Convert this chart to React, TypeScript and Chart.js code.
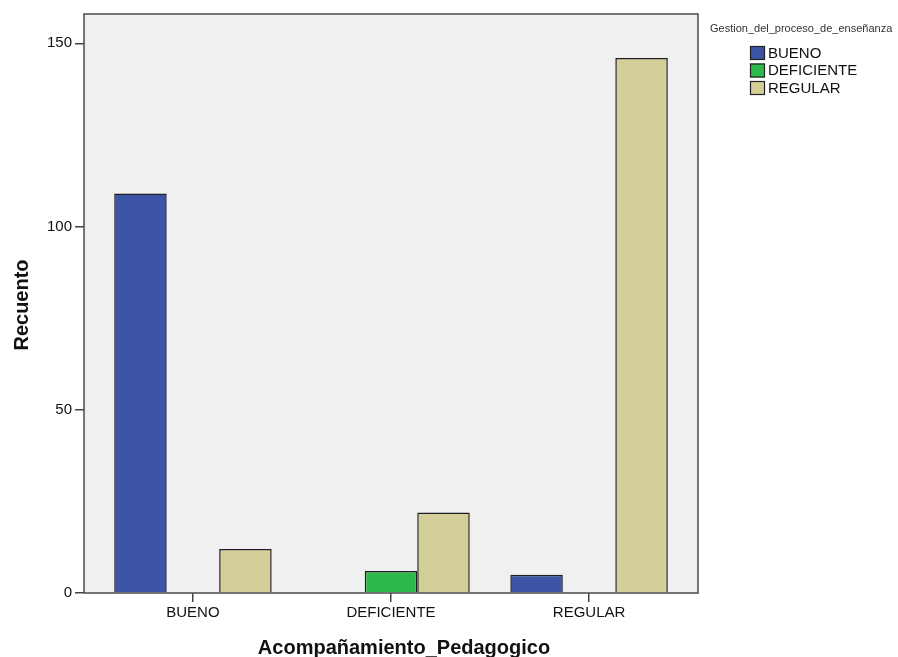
import React, { useEffect, useRef } from 'react';
import { Chart, registerables } from 'chart.js';

Chart.register(...registerables);

const categories = ['BUENO', 'DEFICIENTE', 'REGULAR'];
const seriesNames = ['BUENO', 'DEFICIENTE', 'REGULAR'];
const buenoValues = [109, null, 5];
const deficienteValues = [null, 6, null];
const regularValues = [12, 22, 146];
const yTickValues = [0, 50, 100, 150];
const seriesColors = ['#3b54a6', '#2eb94c', '#d4cf98'];
const xTitle = 'Acompañamiento_Pedagogico';
const yTitle = 'Recuento';
const legendTitle = 'Gestion_del_proceso_de_enseñanza';

const FONT = '"Liberation Sans", Arial, sans-serif';

export default function App() {
  const ref = useRef<HTMLCanvasElement | null>(null);

  useEffect(() => {
    const canvas = ref.current;
    if (!canvas) return;

    const decor = {
      id: 'decor',
      beforeDraw(chart: any) {
        const { ctx, chartArea: a } = chart;
        ctx.save();
        ctx.fillStyle = '#ffffff';
        ctx.fillRect(0, 0, chart.width, chart.height);
        ctx.fillStyle = '#f0f0f0';
        ctx.fillRect(a.left, a.top, a.right - a.left, a.bottom - a.top);
        ctx.restore();
      },
      afterDatasetsDraw(chart: any) {
        const { ctx, chartArea: a } = chart;
        ctx.save();
        ctx.strokeStyle = '#4a4a4a';
        ctx.lineWidth = 1.5;
        ctx.strokeRect(a.left, a.top, a.right - a.left, a.bottom - a.top);
        ctx.restore();
      },
      afterDraw(chart: any) {
        const { ctx, chartArea: a } = chart;
        ctx.save();
        // axis titles
        ctx.fillStyle = '#111';
        ctx.font = `bold 20px ${FONT}`;
        ctx.textAlign = 'center';
        ctx.textBaseline = 'alphabetic';
        ctx.fillText(xTitle, 404, 654);
        ctx.save();
        ctx.translate(28, 305);
        ctx.rotate(-Math.PI / 2);
        ctx.fillText(yTitle, 0, 0);
        ctx.restore();

        // legend
        ctx.textAlign = 'left';
        ctx.textBaseline = 'middle';
        ctx.fillStyle = '#333';
        ctx.font = `11px ${FONT}`;
        ctx.fillText(legendTitle, 710, 29, 187);
        ctx.font = `15px ${FONT}`;
        seriesNames.forEach((name, i) => {
          const y = 46 + i * 17.5;
          ctx.fillStyle = seriesColors[i];
          ctx.fillRect(750, y, 15, 14);
          ctx.strokeStyle = '#222';
          ctx.lineWidth = 1.2;
          ctx.strokeRect(750.5, y + 0.5, 14, 13);
          ctx.fillStyle = '#111';
          ctx.fillText(name, 768, y + 7.5);
        });
        ctx.restore();
      },
    };

    const chart = new Chart(canvas, {
      type: 'bar',
      data: {
        labels: categories,
        datasets: [
          { label: seriesNames[0], data: buenoValues as any, backgroundColor: seriesColors[0], borderColor: '#1e1e1e', borderWidth: 1.5 },
          { label: seriesNames[1], data: deficienteValues as any, backgroundColor: seriesColors[1], borderColor: '#1e1e1e', borderWidth: 1.5 },
          { label: seriesNames[2], data: regularValues as any, backgroundColor: seriesColors[2], borderColor: '#1e1e1e', borderWidth: 1.5 },
        ],
      },
      options: {
        animation: false,
        responsive: false,
        maintainAspectRatio: false,
        layout: { padding: { top: 14, right: 200, left: 0, bottom: 0 } },
        datasets: { bar: { categoryPercentage: 0.795, barPercentage: 1 } },
        plugins: { legend: { display: false }, tooltip: { enabled: false } },
        scales: {
          x: {
            type: 'category',
            offset: true,
            grid: { display: true, drawOnChartArea: false, drawTicks: true, tickLength: 9, color: '#444', lineWidth: 1.5, offset: false },
            border: { display: false },
            ticks: { font: { family: FONT, size: 15 }, color: '#111', padding: 2, maxRotation: 0, autoSkip: false },
            afterFit: (s: any) => { s.height = 64; },
            afterBuildTicks: (s: any) => { s._startValue = -0.55; s._valueRange = 3.1; },
          },
          y: {
            min: 0,
            max: 158,
            grid: { display: true, drawOnChartArea: false, drawTicks: true, tickLength: 9, color: '#444', lineWidth: 1.5 },
            border: { display: false },
            ticks: { font: { family: FONT, size: 15 }, color: '#111', padding: 3 },
            afterFit: (s: any) => { s.width = 84; },
            afterBuildTicks: (s: any) => { s.ticks = yTickValues.map((v) => ({ value: v })); },
          },
        },
      },
      plugins: [decor],
    });

    return () => chart.destroy();
  }, []);

  return (
    <div style={{ position: 'fixed', left: 0, top: 0, width: 898, height: 657, background: '#fff' }}>
      <canvas ref={ref} width={898} height={657} style={{ width: 898, height: 657, display: 'block' }} />
    </div>
  );
}
